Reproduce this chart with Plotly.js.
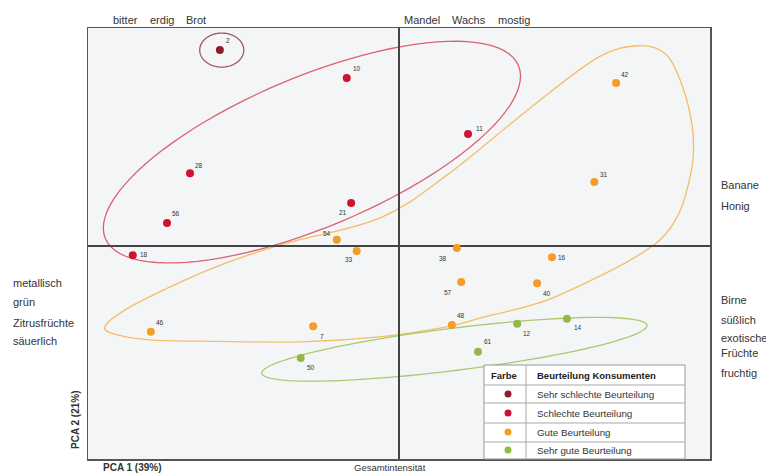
<!DOCTYPE html>
<html>
<head>
<meta charset="utf-8">
<script src="https://cdn.plot.ly/plotly-3.0.1.min.js"></script>
<style>
  html, body { margin: 0; padding: 0; background: #fff; }
  #chart { width: 766px; height: 475px; }
</style>
</head>
<body>
<div id="chart"></div>
<script>
// Sensory PCA map: samples coloured by consumer rating
const ratingCategories = [
  'Sehr schlechte Beurteilung',
  'Schlechte Beurteilung',
  'Gute Beurteilung',
  'Sehr gute Beurteilung'
];
const sampleIds = ['2', '10', '28', '56', '21', '18', '11',
  '54', '33', '46', '7', '42', '31', '38', '16', '57', '40', '48',
  '50', '12', '14', '61'];
const pc1Scores = [-2.88, -0.84, -3.36, -3.73, -0.77, -4.28, 1.11,
  -1.00, -0.68, -3.99, -1.38, 3.49, 3.14, 0.93, 2.46, 1.00, 2.22, 0.85,
  -1.58, 1.90, 2.70, 1.27];
const pc2Scores = [3.15, 2.70, 1.17, 0.37, 0.69, -0.15, 1.80,
  0.10, -0.08, -1.38, -1.29, 2.62, 1.03, -0.03, -0.18, -0.58, -0.60, -1.27,
  -1.80, -1.25, -1.17, -1.70];
const ratingGroup = [0, 1, 1, 1, 1, 1, 1,
  2, 2, 2, 2, 2, 2, 2, 2, 2, 2, 2,
  3, 3, 3, 3];
const topLeftAttributes = ['bitter', 'erdig', 'Brot'];
const topRightAttributes = ['Mandel', 'Wachs', 'mostig'];
const leftAttributes = ['metallisch', 'grün', 'Zitrusfrüchte', 'säuerlich'];
const rightUpperAttributes = ['Banane', 'Honig'];
const rightLowerAttributes = ['Birne', 'süßlich', 'exotische', 'Früchte', 'fruchtig'];
const axisTitles = ['PCA 1 (39%)', 'PCA 2 (21%)', 'Gesamtintensität'];
const legendHeader = ['Farbe', 'Beurteilung Konsumenten'];

// ---- styling ----
const FONT = 'Liberation Sans, Arial, sans-serif';
const groupColors = ['#8e1c2c', '#cf122d', '#f39c26', '#93b944'];
const TEXT = '#333333';

// plot area in pixels (left, right, top, bottom)
const P = { l: 88, r: 710, t: 28, b: 459 };
const W = 766, H = 475;
const px2x = p => (p - P.l) / (P.r - P.l);
const px2y = p => (P.b - p) / (P.b - P.t);

// label placement around each sample marker (pixels, y up)
const labelShift = {
  '2': [8, 10], '10': [10, 10], '28': [9, 8], '56': [9, 10], '21': [-8, -9],
  '18': [11, 1], '11': [11, 6], '54': [-10, 6], '33': [-8, -8], '46': [9, 9],
  '7': [9, -10], '42': [9, 9], '31': [10, 7], '38': [-14, -11], '16': [10, 0],
  '57': [-13, -10], '40': [10, -10], '48': [9, 10], '50': [10, -10],
  '12': [10, -10], '14': [11, -9], '61': [10, 10]
};

// outline geometry of the grouping contours (data units)
function ellipsePath(cx, cy, a, b, deg) {
  const t = deg * Math.PI / 180, n = 96;
  let d = '';
  for (let i = 0; i <= n; i++) {
    const s = 2 * Math.PI * i / n;
    const x = cx + a * Math.cos(s) * Math.cos(t) - b * Math.sin(s) * Math.sin(t);
    const y = cy + a * Math.cos(s) * Math.sin(t) + b * Math.sin(s) * Math.cos(t);
    d += (i === 0 ? 'M' : 'L') + x.toFixed(4) + ',' + y.toFixed(4);
  }
  return d + 'Z';
}
function closedSpline(pts) {
  const n = pts.length;
  let d = 'M' + pts[0][0] + ',' + pts[0][1];
  for (let i = 0; i < n; i++) {
    const p0 = pts[(i - 1 + n) % n], p1 = pts[i], p2 = pts[(i + 1) % n], p3 = pts[(i + 2) % n];
    const c1 = [p1[0] + (p2[0] - p0[0]) / 6, p1[1] + (p2[1] - p0[1]) / 6];
    const c2 = [p2[0] - (p3[0] - p1[0]) / 6, p2[1] - (p3[1] - p1[1]) / 6];
    d += 'C' + c1[0].toFixed(4) + ',' + c1[1].toFixed(4) + ' ' +
         c2[0].toFixed(4) + ',' + c2[1].toFixed(4) + ' ' +
         p2[0].toFixed(4) + ',' + p2[1].toFixed(4);
  }
  return d + 'Z';
}
const goodOutline = [
  [-4.73, -1.30], [-4.41, -1.03], [-3.73, -0.68], [-2.88, -0.31], [-1.87, 0.03],
  [-0.31, 0.45], [0.77, 1.14], [2.11, 2.22], [3.18, 3.02], [3.83, 3.22],
  [4.28, 3.09], [4.55, 2.59], [4.71, 1.95], [4.73, 1.45], [4.65, 0.98],
  [4.49, 0.50], [4.20, 0.10], [3.71, -0.23], [3.07, -0.56], [2.38, -0.87],
  [1.83, -1.03], [1.30, -1.16], [0.77, -1.30],
  [-0.31, -1.46], [-1.59, -1.54], [-3.20, -1.53], [-4.00, -1.51], [-4.53, -1.43]
];

const shapes = [
  { type: 'path', xref: 'x', yref: 'y', layer: 'below',
    path: ellipsePath(-2.85, 3.15, 0.354, 0.273, 0), line: { color: '#a0596a', width: 1.3 } },
  { type: 'path', xref: 'x', yref: 'y', layer: 'below',
    path: ellipsePath(-1.40, 1.51, 3.60, 1.21, 22.7), line: { color: '#db6270', width: 1.3 } },
  { type: 'path', xref: 'x', yref: 'y', layer: 'below',
    path: closedSpline(goodOutline), line: { color: '#f5bd66', width: 1.3 } },
  { type: 'path', xref: 'x', yref: 'y', layer: 'below',
    path: ellipsePath(0.89, -1.66, 3.12, 0.34, 7.1), line: { color: '#abc96f', width: 1.3 } }
];

// rating key table
const tbl = { l: 484, r: 685, t: 365, b: 459, col: 526, rows: [385, 403, 423, 442] };
shapes.push({ type: 'rect', xref: 'paper', yref: 'paper', layer: 'above',
  x0: px2x(tbl.l), x1: px2x(tbl.r), y0: px2y(tbl.b), y1: px2y(tbl.t),
  fillcolor: '#ffffff', line: { color: '#9a9a9a', width: 1 } });
tbl.rows.forEach(r => shapes.push({ type: 'line', xref: 'paper', yref: 'paper', layer: 'above',
  x0: px2x(tbl.l), x1: px2x(tbl.r), y0: px2y(r), y1: px2y(r), line: { color: '#a8a8a8', width: 1 } }));
shapes.push({ type: 'line', xref: 'paper', yref: 'paper', layer: 'above',
  x0: px2x(tbl.col), x1: px2x(tbl.col), y0: px2y(tbl.b), y1: px2y(tbl.t), line: { color: '#a8a8a8', width: 1 } });

const annotations = [];
const rowCenters = [394, 413, 432, 450];
ratingCategories.forEach((c, i) => {
  shapes.push({ type: 'circle', xref: 'paper', yref: 'paper', layer: 'above',
    xsizemode: 'pixel', ysizemode: 'pixel', xanchor: px2x(508), yanchor: px2y(rowCenters[i]),
    x0: -3.5, x1: 3.5, y0: -3.5, y1: 3.5, fillcolor: groupColors[i], line: { width: 0 } });
  annotations.push({ xref: 'paper', yref: 'paper', x: px2x(535), y: px2y(rowCenters[i]),
    xanchor: 'left', yanchor: 'middle', showarrow: false, text: c,
    font: { family: FONT, size: 9.8, color: TEXT } });
});
annotations.push({ xref: 'paper', yref: 'paper', x: px2x(504), y: px2y(375), xanchor: 'center', yanchor: 'middle',
  showarrow: false, text: '<b>' + legendHeader[0] + '</b>', font: { family: FONT, size: 9.5, color: '#222' } });
annotations.push({ xref: 'paper', yref: 'paper', x: px2x(535), y: px2y(375), xanchor: 'left', yanchor: 'middle',
  showarrow: false, text: '<b>' + legendHeader[1] + '</b>', font: { family: FONT, size: 9.5, color: '#222' } });

// sample labels
sampleIds.forEach((id, i) => {
  const s = labelShift[id] || [8, 8];
  annotations.push({ x: pc1Scores[i], y: pc2Scores[i], xref: 'x', yref: 'y', showarrow: false,
    text: id, xshift: s[0], yshift: s[1], font: { family: FONT, size: 6.5, color: '#333' } });
});

// attribute words around the map
function outsideText(text, xpx, ypx, anchor, size, opts) {
  annotations.push(Object.assign({ xref: 'paper', yref: 'paper', x: px2x(xpx), y: px2y(ypx),
    xanchor: anchor, yanchor: 'middle', showarrow: false, text: text,
    font: { family: FONT, size: size, color: TEXT } }, opts || {}));
}
[125, 162, 196].forEach((x, i) => outsideText(topLeftAttributes[i], x, 20, 'center', 11));
[422, 469, 514].forEach((x, i) => outsideText(topRightAttributes[i], x, 20, 'center', 11));
[283, 302, 323, 341].forEach((y, i) => outsideText(leftAttributes[i], 11, y, 'left', 11));
[185, 206].forEach((y, i) => outsideText(rightUpperAttributes[i], 719, y, 'left', 11));
[300, 320, 338, 353, 373].forEach((y, i) => outsideText(rightLowerAttributes[i], 719, y, 'left', 11));
outsideText('<b>' + axisTitles[0] + '</b>', 132, 467, 'center', 10);
outsideText('<b>' + axisTitles[1] + '</b>', 75, 420, 'center', 10, { textangle: -90 });
outsideText(axisTitles[2], 390, 467, 'center', 9.5);

const traces = ratingCategories.map((c, g) => {
  const idx = ratingGroup.map((r, i) => r === g ? i : -1).filter(i => i >= 0);
  return {
    type: 'scatter', mode: 'markers', name: c,
    x: idx.map(i => pc1Scores[i]), y: idx.map(i => pc2Scores[i]),
    marker: { size: 8, color: groupColors[g], line: { width: 0 } },
    hoverinfo: 'skip', cliponaxis: false
  };
});

const axisBase = {
  showgrid: false, showticklabels: false, ticks: '', fixedrange: true,
  showline: true, mirror: true, linecolor: '#555555', linewidth: 1.5,
  zeroline: true, zerolinecolor: '#444444', zerolinewidth: 1.5
};
const layout = {
  width: W, height: H,
  margin: { l: P.l, r: W - P.r, t: P.t, b: H - P.b, pad: 0 },
  paper_bgcolor: '#ffffff', plot_bgcolor: '#f4f5f7',
  showlegend: false,
  xaxis: Object.assign({ range: [-5, 5] }, axisBase),
  yaxis: Object.assign({ range: [-3.424, 3.505] }, axisBase),
  shapes: shapes, annotations: annotations
};
Plotly.newPlot('chart', traces, layout, { staticPlot: true, displayModeBar: false });
</script>
</body>
</html>
